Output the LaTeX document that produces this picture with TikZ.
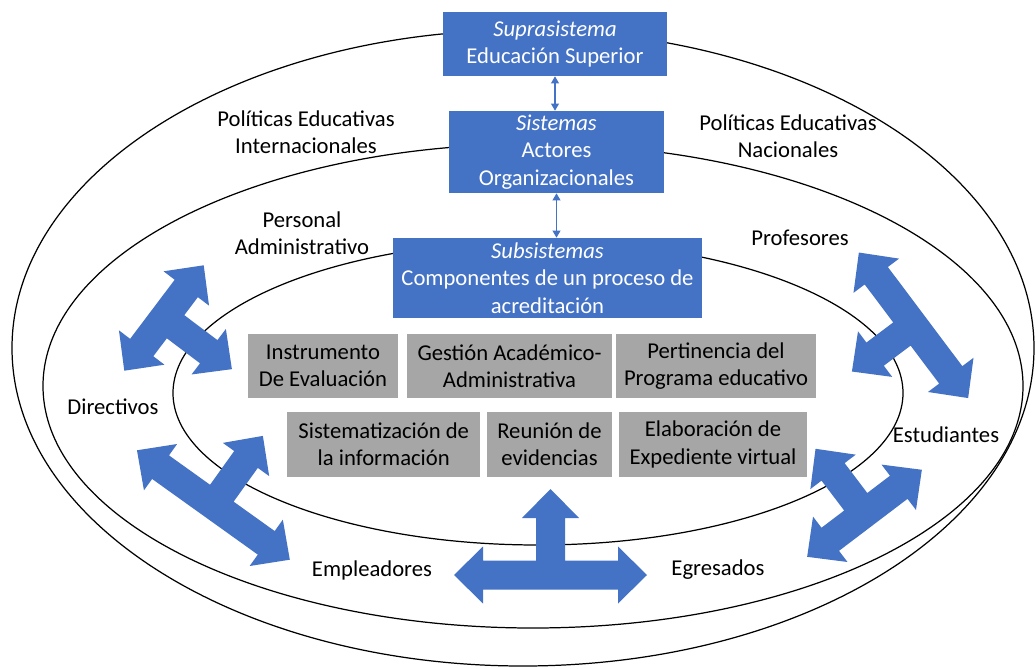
\documentclass[tikz,border=0pt]{standalone}
\usepackage{fontspec}
\setmainfont{Carlito}
\usetikzlibrary{arrows.meta}
\definecolor{OfficeBlue}{RGB}{68,114,196}
\definecolor{OfficeGray}{RGB}{166,166,166}

\begin{document}
\begin{tikzpicture}[
    x=0.02cm, y=-0.02cm,
    txt/.style={font=\fontsize{12.9}{15.5}\selectfont, align=center},
    bluebox/.style={rectangle, fill=OfficeBlue, text=white, txt, inner sep=0pt},
    graybox/.style={rectangle, fill=OfficeGray, text=black, txt, inner sep=0pt},
    lbl/.style={txt, inner sep=0pt},
    ring/.style={draw=black, line width=0.7pt},
    link/.style={{Triangle[length=4pt,width=4.5pt]}-{Triangle[length=4pt,width=4.5pt]}, draw=OfficeBlue, line width=0.6pt},
    pics/tarrow/.style 2 args={code={
      \fill[OfficeBlue] (-#1,0) -- (-#1+29,-28.5) -- (-#1+29,-14.5) -- (-14.5,-14.5)
        -- (-14.5,-#2+29) -- (-28.5,-#2+29) -- (0,-#2) -- (28.5,-#2+29) -- (14.5,-#2+29)
        -- (14.5,-14.5) -- (#1-29,-14.5) -- (#1-29,-28.5) -- (#1,0) -- (#1-29,28.5)
        -- (#1-29,14.5) -- (-#1+29,14.5) -- (-#1+29,28.5) -- cycle;
    }}
]
\useasboundingbox (0,0) rectangle (1035,669);

% the three rings
\draw[ring] (523,348) ellipse [x radius=511, y radius=318];
\draw[ring] (533,386) ellipse [x radius=490, y radius=242];
\draw[ring] (538,393) ellipse [x radius=365, y radius=152];

% block arrows
\pic[rotate=-127] at (164,318) {tarrow={66}{85}};
\pic[rotate=126.9] at (913.5,325.3) {tarrow={91}{77}};
\pic[rotate=-35.6] at (213.4,505) {tarrow={94}{85}};
\pic[rotate=37.2] at (864.5,513.3) {tarrow={72}{81}};
\pic at (550.5,575) {tarrow={96.5}{86}};

% system levels
\node[bluebox, minimum width=4.48cm, minimum height=1.28cm] (supra) at (555,44)
  {\textit{Suprasistema}\\Educación Superior};
\node[bluebox, minimum width=4.30cm, minimum height=1.64cm] (sist) at (556.5,152)
  {\textit{Sistemas}\\Actores\\Organizacionales};
\node[bluebox, minimum width=6.18cm, minimum height=1.60cm] (subs) at (547.5,278)
  {\textit{Subsistemas}\\Componentes de un proceso de\\acreditación};

\draw[link] (supra.south) -- (supra.south |- sist.north);
\draw[link] (sist.south) -- (sist.south |- subs.north);

% components
\node[graybox, minimum width=3.00cm, minimum height=1.28cm] (inst) at (323,366)
  {Instrumento\\De Evaluación};
\node[graybox, minimum width=4.10cm, minimum height=1.28cm] (gest) at (509.5,366)
  {Gestión Académico-\\Administrativa};
\node[graybox, minimum width=4.00cm, minimum height=1.28cm] (pert) at (716,366)
  {Pertinencia del\\Programa educativo};
\node[graybox, minimum width=3.87cm, minimum height=1.30cm] (sistem) at (383.75,444.5)
  {Sistematización de\\la información};
\node[graybox, minimum width=2.50cm, minimum height=1.30cm] (reun) at (549.5,444.5)
  {Reunión de\\evidencias};
\node[graybox, minimum width=3.76cm, minimum height=1.30cm] (elab) at (713,444.5)
  {Elaboración de\\Expediente virtual};

% actors and policies
\node[lbl] (polint) at (306,132.5) {Políticas Educativas\\Internacionales};
\node[lbl] (polnac) at (788,136) {Políticas Educativas\\Nacionales};
\node[lbl] (persadm) at (302,233.5) {Personal\\Administrativo};
\node[lbl] (prof) at (800,238) {Profesores};
\node[lbl] (direc) at (113,407) {Directivos};
\node[lbl] (estud) at (946,435) {Estudiantes};
\node[lbl] (emple) at (372,570) {Empleadores};
\node[lbl] (egres) at (718,570) {Egresados};

\end{tikzpicture}
\end{document}
